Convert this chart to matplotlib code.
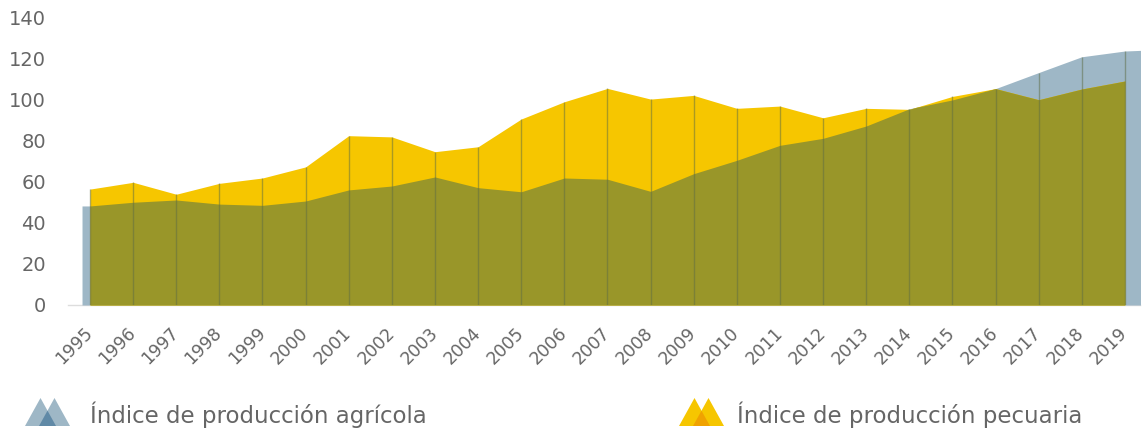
import numpy as np
import matplotlib
matplotlib.use("Agg")
import matplotlib.pyplot as plt
from matplotlib.patches import Polygon

years = list(range(1995, 2020))
agricola = [48.2, 50.0, 51.1, 49.1, 48.5, 50.6, 56.0, 57.9, 62.3, 57.1, 55.1, 61.8, 61.2,
            55.3, 63.9, 70.4, 77.7, 81.1, 87.1, 95.5, 99.8, 105.3, 113.1, 120.8, 123.6]
pecuaria = [56.4, 59.7, 53.9, 59.2, 61.8, 67.2, 82.4, 81.8, 74.6, 77.0, 90.5, 98.9, 105.4,
            100.2, 102.0, 95.7, 96.8, 91.1, 95.7, 95.2, 101.5, 105.3, 99.9, 105.1, 109.0]
yticks = [0, 20, 40, 60, 80, 100, 120, 140]
labels = ["Índice de producción agrícola", "Índice de producción pecuaria"]

BLUE = "#9eb7c6"
YELLOW = "#f6c600"
OLIVE = "#999629"
LINE = "#5e6d44"
TXT = "#666666"

plt.rcParams['font.family'] = ['DejaVu Sans']

fig = plt.figure(figsize=(11.44, 4.33), dpi=100)
ax = fig.add_axes([68/1144, 1-305/433, (1140-68)/1144, (305-17.3)/433])

x = np.array(years, dtype=float)
a = np.array(agricola)
p = np.array(pecuaria)

# blue area slightly extended at both ends (as in source)
xa = np.concatenate([[x[0]-0.185], x, [x[-1]+0.5]])
aa = np.concatenate([[a[0]], a, [a[-1] + 0.5*(a[-1]-a[-2])*0.3]])
ax.fill_between(xa, 0, aa, color=BLUE, lw=0, zorder=1)
ax.fill_between(x, 0, p, color=YELLOW, lw=0, zorder=2)
xd = np.linspace(x[0], x[-1], 2000)
ov = np.minimum(np.interp(xd, x, a), np.interp(xd, x, p))
ax.fill_between(xd, 0, ov, color=OLIVE, lw=0, zorder=3)
ax.vlines(x, 0, np.maximum(a, p), color=LINE, lw=1.0, alpha=0.5, zorder=4)

ax.set_xlim(x[0]-0.51, x[-1]+0.35)
ax.set_ylim(0, 140)
ax.set_yticks(yticks)
ax.set_xticks(x)
ax.tick_params(axis='both', length=0)
ax.tick_params(axis='y', pad=16)
ax.tick_params(axis='x', pad=18)
ax.set_yticklabels([str(v) for v in yticks], fontsize=14, color=TXT)
ax.set_xticklabels([str(y) for y in years], rotation=45, ha='right', va='center',
                   rotation_mode='anchor', fontsize=12.5, color=TXT)
for s in ['top', 'right', 'left']:
    ax.spines[s].set_visible(False)
ax.spines['bottom'].set_color('#dddddd')
ax.spines['bottom'].set_linewidth(1.0)
ax.spines['bottom'].set_zorder(0)

# legend icons
def icon(x0, ybase, w, h, d, c_light, c_dark):
    H, W = 433.0, 1144.0
    def P(px, py):
        return (px / W, 1 - py / H)
    t1 = [P(x0, ybase), P(x0 + w, ybase), P(x0 + w/2, ybase - h)]
    t2 = [P(x0 + d, ybase), P(x0 + d + w, ybase), P(x0 + d + w/2, ybase - h)]
    hi = h * (w - d) / w
    t3 = [P(x0 + d, ybase), P(x0 + w, ybase), P(x0 + (w + d)/2, ybase - hi)]
    for t, c in [(t1, c_light), (t2, c_light), (t3, c_dark)]:
        fig.patches.append(Polygon(t, closed=True, transform=fig.transFigure,
                                   facecolor=c, edgecolor='none'))

icon(25, 426, 31, 28, 14, BLUE, "#6089a6")
icon(679, 426, 31, 28, 14, YELLOW, "#f0a200")
fig.text(90/1144, 1-415/433, labels[0], fontsize=16.5, color=TXT, va='center', ha='left')
fig.text(737/1144, 1-415/433, labels[1], fontsize=16.5, color=TXT, va='center', ha='left')

fig.savefig("out.png", dpi=100)
